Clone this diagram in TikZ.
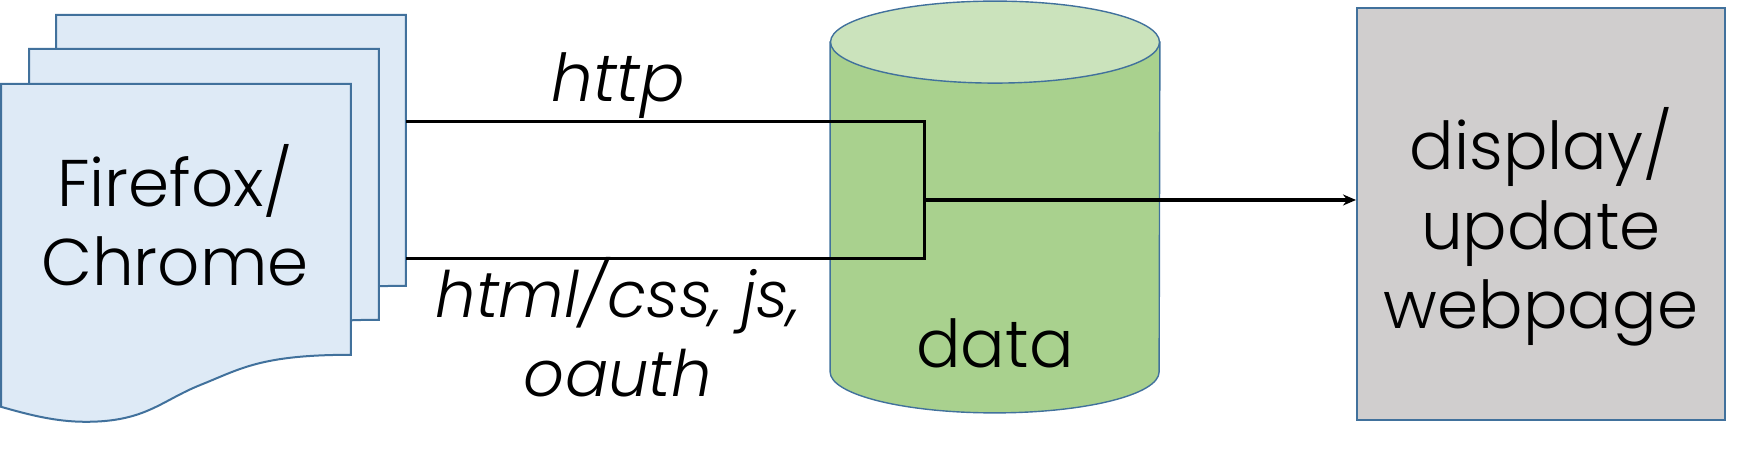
\documentclass[tikz,border=0pt]{standalone}
\usepackage{fontspec}
\setmainfont{Poppins Light}[ItalicFont={Poppins Light Italic}]
\usepackage{tikz}
\usetikzlibrary{arrows.meta}
\definecolor{sheetblue}{HTML}{DEEAF6}
\definecolor{edgeblue}{HTML}{41719C}
\definecolor{dbgreen}{HTML}{A9D18E}
\definecolor{dbtop}{HTML}{CBE3BC}
\definecolor{pagegray}{HTML}{D0CECE}
\tikzset{
    sheet/.style={rectangle, minimum width=174.5pt, minimum height=135pt, inner sep=0pt},
    sheetline/.style={draw=edgeblue, line width=1pt, fill=sheetblue},
    database/.style={rectangle, minimum width=164.5pt, minimum height=205.5pt, inner sep=0pt},
    dbbody/.style={draw=edgeblue, line width=0.7pt, fill=dbgreen},
    dbend/.style={draw=edgeblue, line width=0.7pt, fill=dbtop},
    pagebox/.style={rectangle, draw=edgeblue, line width=1pt, fill=pagegray, minimum width=184pt, minimum height=206pt, inner sep=0pt},
    bigtext/.style={font=\fontsize{33}{39.7}\selectfont, align=center},
    slanted/.style={font=\fontsize{32}{39.7}\selectfont\itshape, align=center},
    link/.style={line width=1.5pt},
    arrow/.style={-{Stealth[length=6.5pt, width=5.5pt]}, line width=2pt}
}
\begin{document}
\begin{tikzpicture}[x=0.5pt, y=-0.5pt]
    \useasboundingbox (0,0) rectangle (1744,453);
    \node (backsheet) [sheet, anchor=north west] at (56,15) {};
    \node (midsheet) [sheet, anchor=north west] at (29,49) {};
    \node (frontsheet) [sheet, anchor=north west] at (1,84) {};
    \foreach \s in {backsheet, midsheet, frontsheet}
        \draw[sheetline] (\s.north west) -- (\s.north east) -- (\s.south east)
            .. controls +(-45pt,0pt) and +(20pt,8pt) .. ([xshift=-75pt,yshift=-15pt]\s.south east)
            .. controls +(-20pt,-8pt) and +(30pt,0pt) .. ([xshift=-132.5pt,yshift=-33.5pt]\s.south east)
            .. controls +(-15pt,0pt) and +(14pt,-4pt) .. ([yshift=-26pt]\s.south west) -- cycle;
    \node (browser) [bigtext] at (175,215) {Firefox/\\Chrome};
    \node (db) [database] at (995,207) {};
    \draw[dbbody] ([yshift=-20.5pt]db.north west) -- ([yshift=20.5pt]db.south west)
        arc[start angle=180, end angle=360, x radius=82.25pt, y radius=20.5pt]
        -- ([yshift=-20.5pt]db.north east) -- cycle;
    \draw[dbend] ([yshift=-20.5pt]db.north) ellipse [x radius=82.25pt, y radius=20.5pt];
    \node (datalabel) [bigtext] at (995,343) {data};
    \node (display) [pagebox] at (1541,214) {};
    \node (displaytext) [bigtext] at (1541,227) {display/\\update\\webpage};
    \coordinate (httpstart) at (406,122);
    \coordinate (htmlstart) at (406,259);
    \coordinate (httpcorner) at (924,122);
    \coordinate (htmlcorner) at (924,259);
    \coordinate (merge) at (924,200);
    \draw[link] (httpstart) -- (httpcorner) -- (htmlcorner) -- (htmlstart);
    \draw[arrow] (merge) -- (merge -| display.west);
    \node (http) [slanted, font=\fontsize{33}{39.7}\selectfont\itshape] at (618,86) {http};
    \node (assets) [slanted] at (618,327) {html/css, js,\\oauth};
\end{tikzpicture}
\end{document}
